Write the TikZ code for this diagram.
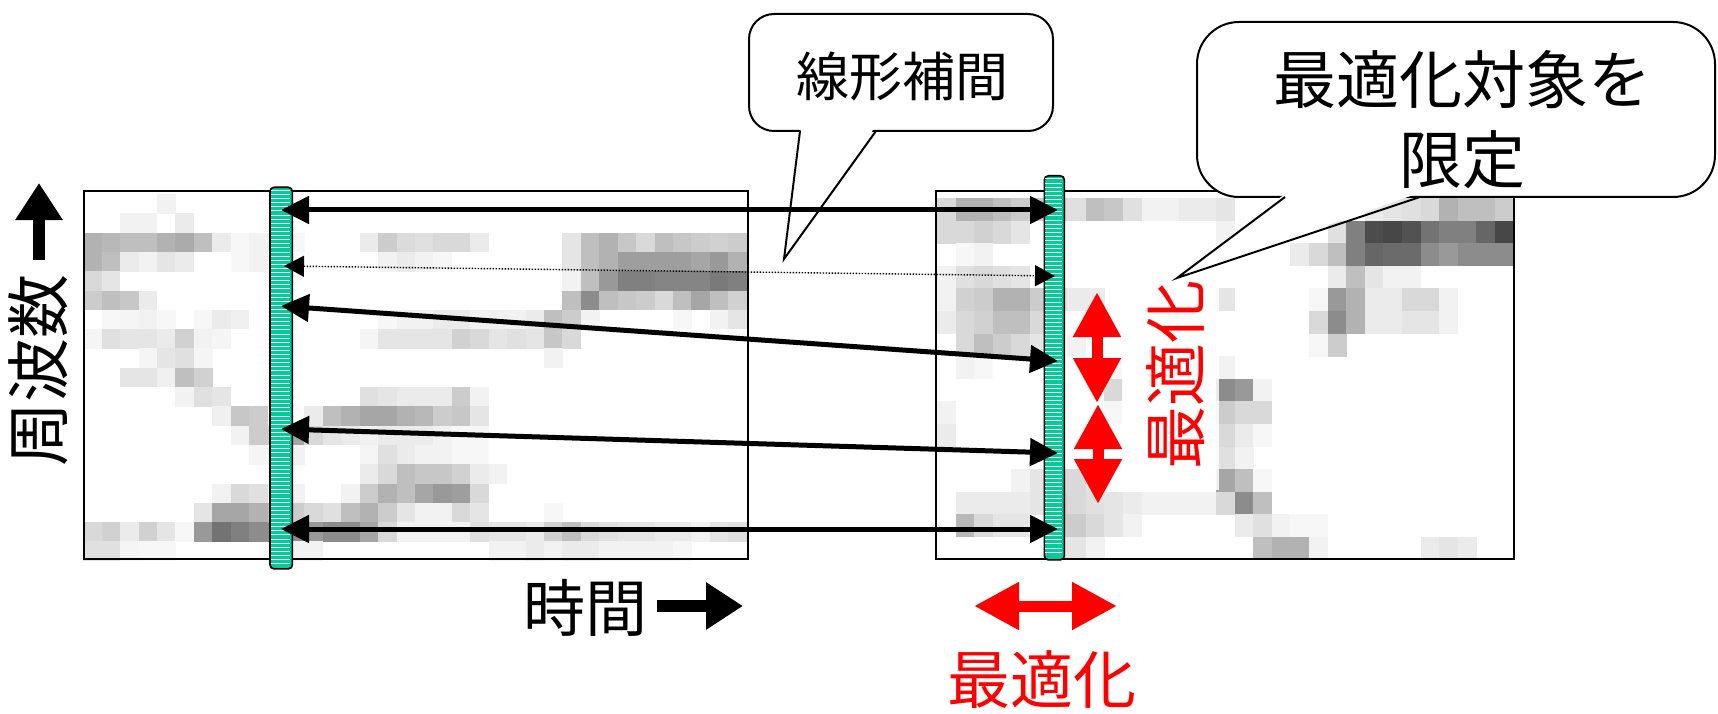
\documentclass[tikz,border=0pt]{standalone}
\usepackage{fontspec}
\newfontfamily\jp{Noto Sans CJK JP}
\usetikzlibrary{arrows.meta}
\definecolor{barteal}{RGB}{0,204,153}
\definecolor{optred}{RGB}{255,0,0}
\begin{document}
\begin{tikzpicture}[x=1pt,y=-1pt,
  specbox/.style={draw=black, line width=2pt, inner sep=0pt, anchor=north west},
  barbox/.style={draw=black, line width=1.7pt, fill=barteal, rounded corners=4pt, inner sep=0pt, anchor=north west},
  stripe/.style={white, line width=1pt},
  conn/.style={line width=5pt, {Triangle[length=28pt,width=27pt]}-{Triangle[length=28pt,width=27pt]}},
  interp/.style={line width=1.4pt, dash pattern=on 1.4pt off 1.6pt, {Triangle[length=20pt,width=21pt]}-{Triangle[length=20pt,width=21pt]}},
  optarrow/.style={optred, line width=11pt, {Triangle[length=45pt,width=45pt]}-{Triangle[length=45pt,width=45pt]}},
  axisarrow/.style={line width=12pt, -{Triangle[length=37pt,width=45pt]}},
  callout/.style={draw=black, line width=2pt, fill=white, inner sep=0pt},
  jptext/.style={inner sep=0pt}
]
\useasboundingbox (0,0) rectangle (1718,714);

% ---------- left spectrogram cells ----------
\foreach \c/\r/\v in {4/0/5,
 2/1/5,3/1/5,5/1/8,
 0/2/30,1/2/28,2/2/25,3/2/25,4/2/30,5/2/33,6/2/25,7/2/8,8/2/3,9/2/5,10/2/5,11/2/3,15/2/8,16/2/20,17/2/14,18/2/12,19/2/15,20/2/15,21/2/8,26/2/10,27/2/25,28/2/30,29/2/22,30/2/15,31/2/25,32/2/22,33/2/20,34/2/18,35/2/20,
 0/3/30,1/3/25,2/3/8,3/3/5,4/3/10,5/3/8,8/3/3,9/3/5,16/3/5,17/3/8,18/3/5,19/3/3,26/3/10,27/3/25,28/3/30,29/3/38,30/3/38,31/3/38,32/3/38,33/3/35,34/3/40,35/3/30,
 0/4/15,1/4/10,26/4/5,27/4/25,28/4/40,29/4/50,30/4/50,31/4/48,32/4/48,33/4/48,34/4/52,35/4/50,
 0/5/20,1/5/25,2/5/22,3/5/8,26/5/25,27/5/45,28/5/25,29/5/22,30/5/20,31/5/15,32/5/25,33/5/35,34/5/25,35/5/18,
 1/6/3,2/6/4,3/6/5,4/6/3,6/6/3,7/6/8,8/6/6,16/6/3,17/6/5,18/6/5,19/6/8,20/6/8,21/6/5,22/6/6,23/6/5,24/6/8,25/6/25,26/6/20,27/6/5,32/6/3,34/6/5,35/6/10,
 0/7/4,1/7/12,2/7/10,3/7/10,4/7/8,5/7/18,6/7/5,7/7/4,15/7/4,16/7/10,17/7/10,18/7/10,19/7/10,20/7/18,21/7/15,22/7/10,23/7/12,24/7/10,25/7/22,26/7/15,
 3/8/4,4/8/10,5/8/12,6/8/4,25/8/5,
 2/9/10,3/9/10,4/9/6,5/9/25,6/9/18,
 5/10/5,6/10/12,7/10/10,15/10/12,16/10/10,17/10/8,18/10/8,19/10/8,20/10/20,21/10/5,
 7/11/6,8/11/22,9/11/20,12/11/8,13/11/25,14/11/30,15/11/35,16/11/35,17/11/30,18/11/28,19/11/20,20/11/22,21/11/10,
 8/12/5,9/12/20,10/12/20,11/12/35,12/12/15,13/12/10,14/12/8,15/12/5,16/12/8,17/12/8,18/12/8,19/12/5,20/12/3,21/12/3,
 9/13/4,10/13/4,11/13/5,15/13/4,16/13/12,17/13/8,18/13/5,19/13/5,20/13/3,21/13/3,
 15/14/8,16/14/15,17/14/25,18/14/22,19/14/22,20/14/18,21/14/8,22/14/5,
 7/15/5,8/15/15,9/15/12,11/15/5,14/15/5,15/15/20,16/15/30,17/15/25,18/15/35,19/15/40,20/15/38,21/15/15,
 6/16/10,7/16/35,8/16/35,9/16/30,10/16/25,11/16/20,12/16/15,13/16/12,14/16/25,15/16/30,16/16/20,17/16/10,18/16/5,19/16/5,20/16/15,21/16/10,25/16/3,
 0/17/15,1/17/18,2/17/8,3/17/18,4/17/10,5/17/3,6/17/40,7/17/55,8/17/50,9/17/45,10/17/45,11/17/45,12/17/40,13/17/45,14/17/45,15/17/35,16/17/15,17/17/5,18/17/5,19/17/5,20/17/5,21/17/12,22/17/10,23/17/10,24/17/8,25/17/18,26/17/25,27/17/15,28/17/12,29/17/10,30/17/10,31/17/8,32/17/8,33/17/5,34/17/10,35/17/12,
 0/18/12,1/18/12,2/18/4,3/18/3,4/18/3,11/18/5,12/18/5,22/18/5,23/18/5,24/18/8,25/18/5,26/18/8,27/18/8,28/18/5,29/18/5,30/18/5,31/18/5,32/18/3}
 \fill[black!\v] ({83.3+18.43*\c},{194+19.3*\r}) rectangle ++(18.73,19.6);

% ---------- right spectrogram cells ----------
\foreach \c/\r/\v in {0/0/15,1/0/30,2/0/30,3/0/25,4/0/20,5/0/20,6/0/15,7/0/12,8/0/25,9/0/22,10/0/12,11/0/5,12/0/5,13/0/8,14/0/8,15/0/10,23/0/8,24/0/10,25/0/12,26/0/15,27/0/30,28/0/25,29/0/25,30/0/20,
 0/1/15,1/1/15,2/1/18,3/1/15,4/1/10,15/1/5,21/1/12,22/1/50,23/1/70,24/1/72,25/1/68,26/1/55,27/1/50,28/1/50,29/1/60,30/1/72,
 1/2/3,2/2/5,19/2/8,20/2/15,21/2/25,22/2/50,23/2/60,24/2/58,25/2/58,26/2/45,27/2/40,28/2/45,29/2/45,30/2/45,
 0/3/5,1/3/12,2/3/15,3/3/12,4/3/10,21/3/8,22/3/25,23/3/10,24/3/5,25/3/5,
 0/4/5,1/4/18,2/4/20,3/4/30,4/4/30,5/4/20,6/4/10,7/4/8,8/4/8,15/4/10,20/4/3,21/4/40,22/4/30,23/4/8,24/4/8,25/4/15,26/4/15,27/4/5,
 0/5/8,1/5/15,2/5/18,3/5/25,4/5/25,5/5/15,20/5/15,21/5/45,22/5/30,23/5/8,24/5/8,25/5/10,26/5/10,27/5/5,
 1/6/15,2/6/25,3/6/20,4/6/15,5/6/10,7/6/5,20/6/3,21/6/20,
 1/7/5,2/7/3,9/7/3,15/7/5,
 9/8/15,15/8/45,16/8/40,17/8/5,
 0/9/5,9/9/3,15/9/20,16/9/15,17/9/15,
 0/10/8,15/10/15,16/10/8,17/10/3,
 15/11/12,16/11/5,
 4/12/5,5/12/10,6/12/15,7/12/15,8/12/10,15/12/35,16/12/25,17/12/3,
 1/13/8,2/13/8,3/13/8,4/13/8,5/13/10,6/13/18,7/13/15,8/13/12,9/13/10,10/13/8,11/13/5,12/13/5,13/13/5,14/13/5,15/13/15,16/13/45,17/13/25,
 1/14/28,2/14/15,3/14/10,4/14/10,6/14/20,7/14/20,8/14/15,9/14/10,10/14/5,16/14/8,17/14/12,18/14/5,19/14/3,20/14/3,
 6/15/10,7/15/10,8/15/5,17/15/25,18/15/30,19/15/30,20/15/5,26/15/8,27/15/10,28/15/8}
 \fill[black!\v] ({937+18.6*\c},{198+22.6*\r}) rectangle ++(18.9,22.9);

% ---------- spectrogram frames ----------
\node[specbox, minimum width=664pt, minimum height=368pt] (specL) at (83,190) {};
\node[specbox, minimum width=578pt, minimum height=368pt] (specR) at (935,190) {};

% veil behind vertical label
\fill[white, opacity=0.85] (1122,265) rectangle (1219,490);

% ---------- callouts ----------
\node[callout, rounded corners=25pt, minimum width=304pt, minimum height=117pt] (callA) at (901,72.5) {};
\coordinate (A1) at (800,131);
\coordinate (A2) at (876,131);
\coordinate (At) at (784,259);
\fill[white] (801,127) -- (At) -- (875,127) -- cycle;
\draw[line width=2pt] (A1) -- (At) -- (A2);
\node[jptext, font=\fontsize{53pt}{60pt}\selectfont\jp] (txtA) at (902,76) {線形補間};

\node[callout, rounded corners=42pt, minimum width=518pt, minimum height=175pt] (callB) at (1456,109.5) {};
\coordinate (B1) at (1285,197);
\coordinate (B2) at (1420,197);
\coordinate (Bt) at (1177,278);
\fill[white] (1286,193) -- (Bt) -- (1419,193) -- cycle;
\draw[line width=2pt] (B1) -- (Bt) -- (B2);
\node[jptext, align=center, font=\fontsize{63pt}{80pt}\selectfont\jp] (txtB) at (1462,120) {最適化対象を\\限定};

% ---------- frame bars ----------
\node[barbox, minimum width=22.3pt, minimum height=381.5pt] (barL) at (269.2,186.5) {};
\foreach \y in {190.5,194.6,...,565} \draw[stripe] (270.6,\y) -- (290.1,\y);
\node[barbox, minimum width=20pt, minimum height=384pt] (barR) at (1043.5,175) {};
\foreach \y in {179,183.1,...,556} \draw[stripe] (1044.9,\y) -- (1062.1,\y);

% ---------- correspondence arrows ----------
\coordinate (L1) at (281,210);  \coordinate (R1) at (1058,210);
\coordinate (L2) at (284,266);  \coordinate (R2) at (1055,276);
\coordinate (L3) at (281,306);  \coordinate (R3) at (1058,361);
\coordinate (L4) at (281,429);  \coordinate (R4) at (1058,453);
\coordinate (L5) at (281,529);  \coordinate (R5) at (1058,529);
\draw[conn] (L1) -- (R1);
\draw[interp] (L2) -- (R2);
\draw[conn] (L3) -- (R3);
\draw[conn] (L4) -- (R4);
\draw[conn] (L5) -- (R5);

% ---------- optimisation arrows ----------
\coordinate (V1a) at (1097,292); \coordinate (V1b) at (1097,403);
\coordinate (V2a) at (1098,404); \coordinate (V2b) at (1098,504);
\coordinate (H1) at (974,606);   \coordinate (H2) at (1117,606);
\draw[optarrow] (V1a) -- (V1b);
\draw[optarrow] (V2a) -- (V2b);
\draw[optarrow] (H1) -- (H2);
\node[jptext, rotate=90, text=optred, font=\fontsize{63pt}{70pt}\selectfont\jp] (optV) at (1176,375) {最適化};
\node[jptext, text=optred, font=\fontsize{63pt}{70pt}\selectfont\jp] (optH) at (1042,680) {最適化};

% ---------- axes ----------
\coordinate (F1) at (39,260); \coordinate (F2) at (39,183);
\draw[axisarrow] (F1) -- (F2);
\node[jptext, rotate=90, font=\fontsize{64pt}{70pt}\selectfont\jp] (freq) at (38,370) {周波数};
\coordinate (T1) at (657,606); \coordinate (T2) at (743,606);
\draw[axisarrow] (T1) -- (T2);
\node[jptext, font=\fontsize{62pt}{70pt}\selectfont\jp] (time) at (585,608) {時間};
\end{tikzpicture}
\end{document}
